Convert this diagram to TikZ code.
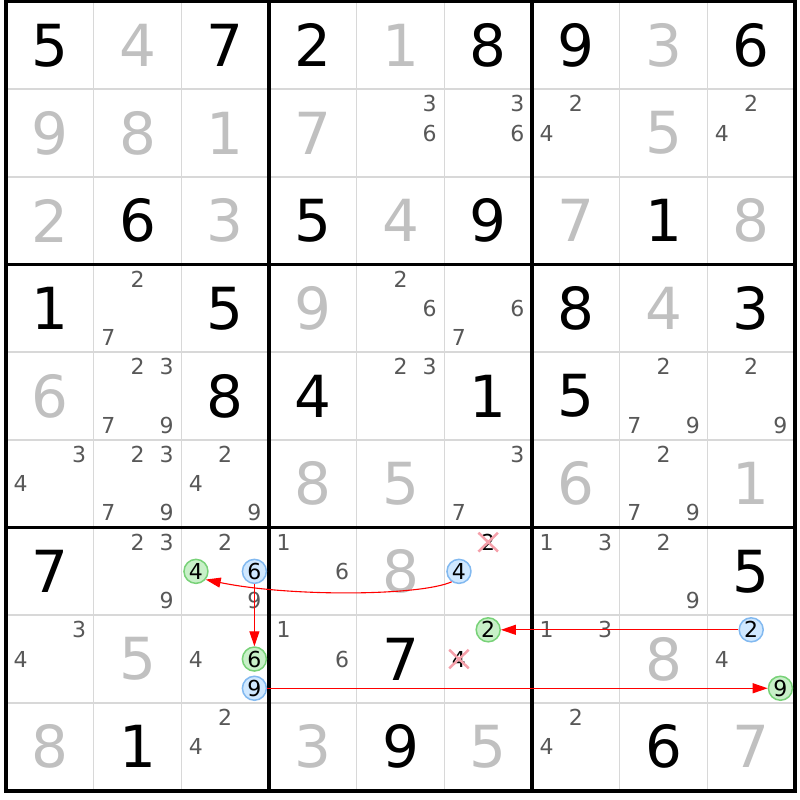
\documentclass[tikz,border=0pt]{standalone}
\usepackage{fontspec}
\setmainfont{DejaVu Sans}
\usetikzlibrary{arrows.meta,shapes.misc}
\definecolor{solvedgray}{RGB}{192,192,192}
\definecolor{candgray}{RGB}{88,88,88}
\definecolor{gridthin}{RGB}{216,216,216}
\definecolor{gfill}{RGB}{200,240,200}
\definecolor{gdraw}{RGB}{120,210,120}
\definecolor{bfill}{RGB}{208,232,255}
\definecolor{bdraw}{RGB}{130,185,240}
\definecolor{xred}{RGB}{245,160,170}
\definecolor{arrred}{RGB}{255,0,0}
\begin{document}
\begin{tikzpicture}[x=1pt,y=-1pt,
  given/.style={font=\fontsize{58}{58}\selectfont, inner sep=0pt, text=black},
  solved/.style={given, text=solvedgray},
  cand/.style={font=\fontsize{22}{22}\selectfont, inner sep=0pt, text=candgray},
  gc/.style={cand, text=black, circle, fill=gfill, draw=gdraw, line width=1.5pt, minimum size=24pt},
  bc/.style={cand, text=black, circle, fill=bfill, draw=bdraw, line width=1.5pt, minimum size=24pt},
  xc/.style={cand, text=black, cross out, draw=xred, line width=2.5pt, inner sep=0pt, minimum width=17pt, minimum height=16pt},
  thinline/.style={draw=gridthin, line width=1.6pt},
  boxline/.style={draw=black, line width=3.5pt},
  outerline/.style={draw=black, line width=4pt},
  arr/.style={draw=arrred, line width=1.1pt, -{Triangle[length=15pt,width=10pt]}}
]
\useasboundingbox (0,0) rectangle (800,800);
\fill[white] (0,0) rectangle (800,800);
% thin grid lines
\foreach \i in {1,2,4,5,7,8} {
  \draw[thinline] ({6+\i*87.67},1.5) -- ({6+\i*87.67},790.5);
  \draw[thinline] (6,{1.5+\i*87.67}) -- (795,{1.5+\i*87.67});
}
% box lines
\foreach \i in {3,6} {
  \draw[boxline] ({6+\i*87.67},1.5) -- ({6+\i*87.67},790.5);
  \draw[boxline] (6,{1.5+\i*87.67}) -- (795,{1.5+\i*87.67});
}
\draw[outerline] (6,1.5) rectangle (795,790.5);
% given digits
\foreach \r/\c/\d in {0/0/5,0/2/7,0/3/2,0/5/8,0/6/9,0/8/6,2/1/6,2/3/5,2/5/9,2/7/1,3/0/1,3/2/5,3/6/8,3/8/3,4/2/8,4/3/4,4/5/1,4/6/5,6/0/7,6/8/5,7/4/7,8/1/1,8/4/9,8/7/6} {
  \node[given] (g\r\c) at ({6+(\c+0.5)*87.67},{1.5+(\r+0.5)*87.67}) {\d};
}
% solved digits
\foreach \r/\c/\d in {0/1/4,0/4/1,0/7/3,1/0/9,1/1/8,1/2/1,1/3/7,1/7/5,2/0/2,2/2/3,2/4/4,2/6/7,2/8/8,3/3/9,3/7/4,4/0/6,5/3/8,5/4/5,5/6/6,5/8/1,6/4/8,7/1/5,7/7/8,8/0/8,8/3/3,8/5/5,8/8/7} {
  \node[solved] (s\r\c) at ({6+(\c+0.5)*87.67},{1.5+(\r+0.5)*87.67}) {\d};
}
% candidates
\foreach \r/\c/\d/\st in {
  1/4/3/cand,1/4/6/cand,1/5/3/cand,1/5/6/cand,1/6/2/cand,1/6/4/cand,1/8/2/cand,1/8/4/cand,
  3/1/2/cand,3/1/7/cand,3/4/2/cand,3/4/6/cand,3/5/6/cand,3/5/7/cand,
  4/1/2/cand,4/1/3/cand,4/1/7/cand,4/1/9/cand,4/4/2/cand,4/4/3/cand,4/7/2/cand,4/7/7/cand,4/7/9/cand,4/8/2/cand,4/8/9/cand,
  5/0/3/cand,5/0/4/cand,5/1/2/cand,5/1/3/cand,5/1/7/cand,5/1/9/cand,5/2/2/cand,5/2/4/cand,5/2/9/cand,5/5/3/cand,5/5/7/cand,5/7/2/cand,5/7/7/cand,5/7/9/cand,
  6/1/2/cand,6/1/3/cand,6/1/9/cand,6/2/2/cand,6/2/9/cand,6/3/1/cand,6/3/6/cand,6/6/1/cand,6/6/3/cand,6/7/2/cand,6/7/9/cand,
  7/0/3/cand,7/0/4/cand,7/2/4/cand,7/3/1/cand,7/3/6/cand,7/6/1/cand,7/6/3/cand,7/8/4/cand,
  8/2/2/cand,8/2/4/cand,8/6/2/cand,8/6/4/cand,
  6/5/2/xc,7/5/4/xc} {
  \pgfmathsetmacro\cx{6+\c*87.67+(2*mod(\d-1,3)+1)*87.67/6}
  \pgfmathsetmacro\cy{1.5+\r*87.67+(2*floor((\d-1)/3)+1)*87.67/6}
  \node[\st] (n\r\c\d) at (\cx,\cy) {\d};
}
% circled candidates
\foreach \r/\c/\d/\st in {6/2/4/gc,6/2/6/bc,6/5/4/bc,7/2/6/gc,7/2/9/bc,7/5/2/gc,7/8/2/bc,7/8/9/gc} {
  \pgfmathsetmacro\cx{6+\c*87.67+(2*mod(\d-1,3)+1)*87.67/6}
  \pgfmathsetmacro\cy{1.5+\r*87.67+(2*floor((\d-1)/3)+1)*87.67/6}
  \node[\st] (n\r\c\d) at (\cx,\cy) {\d};
}
% arrows
\draw[arr] (n654.235) .. controls (420,596) and (290,597) .. (n624.-40);
\draw[arr] (n626) -- (n726);
\draw[arr] (n782) -- (n752);
\draw[arr] (n729) -- (n789);
\end{tikzpicture}
\end{document}
